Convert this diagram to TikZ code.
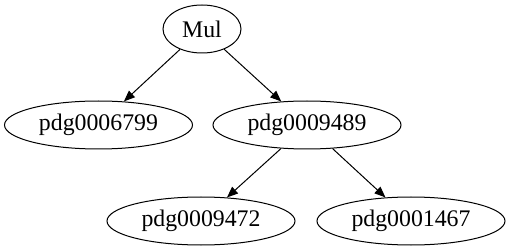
\documentclass[tikz,border=0pt]{standalone}
\usepackage{fontspec}
\setmainfont{Liberation Serif}
\usetikzlibrary{arrows.meta,shapes.geometric}

\begin{document}
\begin{tikzpicture}[
  x=0.5pt, y=-0.5pt, font=\fontsize{11.9}{14}\selectfont,
  op/.style={draw,ellipse,line width=0.5pt,inner sep=0pt,minimum width=39pt,minimum height=24pt},
  leaf/.style={draw,ellipse,line width=0.5pt,inner sep=0pt,minimum width=94pt,minimum height=24pt},
  arr/.style={-{Triangle[length=5.5pt,width=4.4pt]},line width=0.5pt}]
\useasboundingbox (0,0) rectangle (509,251);
\node[op](mul) at (202,29){Mul};
\node[leaf](p6799) at (98.5,125){pdg0006799};
\node[leaf](p9489) at (307,125){pdg0009489};
\node[leaf](p9472) at (201,221){pdg0009472};
\node[leaf](p1467) at (411,221){pdg0001467};
\draw[arr](mul)--(p6799);
\draw[arr](mul)--(p9489);
\draw[arr](p9489)--(p9472);
\draw[arr](p9489)--(p1467);
\end{tikzpicture}
\end{document}
